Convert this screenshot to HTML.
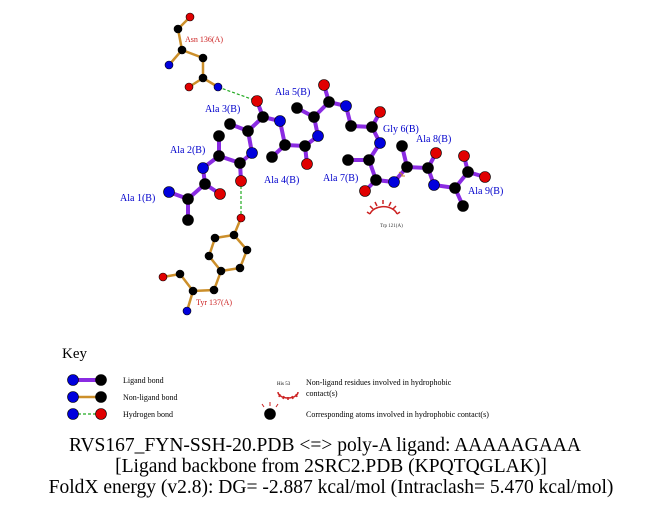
<!DOCTYPE html>
<html><head><style>body{margin:0;background:#fff}svg{display:block}</style></head><body>
<svg width="651" height="511" xmlns="http://www.w3.org/2000/svg" font-family="Liberation Serif, serif">
<g stroke="#cc8f2a" stroke-width="2.5" fill="none">
<polyline points="190,17 178,29 182,50 169,65"/><polyline points="182,50 203,58 203,78 189,87"/><line x1="203" y1="78" x2="218" y2="87"/>
<polyline points="241,218 234,235 215,238 209,256 221,271 240,268 247,250 234,235"/>
<polyline points="221,271 214,290 193,291 180,274 163,277"/><line x1="193" y1="291" x2="187" y2="311"/>
<line x1="73" y1="397" x2="101" y2="397"/>
</g>
<g stroke="#22aa22" stroke-width="1.2" stroke-dasharray="3,2">
<line x1="218" y1="87" x2="257" y2="101"/><line x1="241" y1="181" x2="241" y2="218"/><line x1="73" y1="414" x2="101" y2="414"/>
</g>
<g stroke="#8a2be2" stroke-width="4" fill="none">
<polyline points="169,192 188,199 205,184 203,168 219,156 240,163 252,153 248,131 263,117 280,121 285,145 305,146 318,136 314,117 329,102 346,106 351,126 372,127 380,143 369,160 376,180 394,182 407,167 428,168 434,185 455,188 468,172 485,177"/>
<line x1="188" y1="199" x2="188" y2="220"/><line x1="205" y1="184" x2="220" y2="194"/><line x1="219" y1="156" x2="219" y2="136"/>
<line x1="240" y1="163" x2="241" y2="181"/><line x1="248" y1="131" x2="230" y2="124"/><line x1="263" y1="117" x2="257" y2="101"/>
<line x1="285" y1="145" x2="272" y2="157"/><line x1="305" y1="146" x2="307" y2="164"/><line x1="314" y1="117" x2="297" y2="108"/>
<line x1="329" y1="102" x2="324" y2="85"/><line x1="372" y1="127" x2="380" y2="112"/><line x1="369" y1="160" x2="348" y2="160"/>
<line x1="376" y1="180" x2="365" y2="191"/><line x1="407" y1="167" x2="402" y2="146"/><line x1="428" y1="168" x2="436" y2="153"/>
<line x1="455" y1="188" x2="463" y2="206"/><line x1="468" y1="172" x2="464" y2="156"/>
<line x1="73" y1="380" x2="101" y2="380"/>
</g>
<g stroke="#000" stroke-width="0.6">
<g fill="#000"><circle cx="178" cy="29" r="4"/><circle cx="182" cy="50" r="4"/><circle cx="203" cy="58" r="4"/><circle cx="203" cy="78" r="4"/>
<circle cx="234" cy="235" r="4"/><circle cx="215" cy="238" r="4"/><circle cx="209" cy="256" r="4"/><circle cx="221" cy="271" r="4"/><circle cx="240" cy="268" r="4"/><circle cx="247" cy="250" r="4"/><circle cx="214" cy="290" r="4"/><circle cx="193" cy="291" r="4"/><circle cx="180" cy="274" r="4"/>
<circle cx="188" cy="199" r="5.5"/><circle cx="188" cy="220" r="5.5"/><circle cx="205" cy="184" r="5.5"/><circle cx="219" cy="156" r="5.5"/><circle cx="219" cy="136" r="5.5"/><circle cx="240" cy="163" r="5.5"/><circle cx="248" cy="131" r="5.5"/><circle cx="230" cy="124" r="5.5"/><circle cx="263" cy="117" r="5.5"/><circle cx="285" cy="145" r="5.5"/><circle cx="272" cy="157" r="5.5"/><circle cx="305" cy="146" r="5.5"/><circle cx="314" cy="117" r="5.5"/><circle cx="297" cy="108" r="5.5"/><circle cx="329" cy="102" r="5.5"/><circle cx="351" cy="126" r="5.5"/><circle cx="372" cy="127" r="5.5"/><circle cx="369" cy="160" r="5.5"/><circle cx="348" cy="160" r="5.5"/><circle cx="376" cy="180" r="5.5"/><circle cx="407" cy="167" r="5.5"/><circle cx="402" cy="146" r="5.5"/><circle cx="428" cy="168" r="5.5"/><circle cx="455" cy="188" r="5.5"/><circle cx="463" cy="206" r="5.5"/><circle cx="468" cy="172" r="5.5"/>
<circle cx="101" cy="380" r="5.5"/><circle cx="101" cy="397" r="5.5"/><circle cx="270" cy="414" r="5.5"/></g>
<g fill="#e00000"><circle cx="190" cy="17" r="4"/><circle cx="189" cy="87" r="4"/><circle cx="241" cy="218" r="4"/><circle cx="163" cy="277" r="4"/>
<circle cx="220" cy="194" r="5.5"/><circle cx="241" cy="181" r="5.5"/><circle cx="257" cy="101" r="5.5"/><circle cx="307" cy="164" r="5.5"/><circle cx="324" cy="85" r="5.5"/><circle cx="380" cy="112" r="5.5"/><circle cx="365" cy="191" r="5.5"/><circle cx="436" cy="153" r="5.5"/><circle cx="464" cy="156" r="5.5"/><circle cx="485" cy="177" r="5.5"/><circle cx="101" cy="414" r="5.5"/></g>
<g fill="#0000dd"><circle cx="169" cy="65" r="4"/><circle cx="218" cy="87" r="4"/><circle cx="187" cy="311" r="4"/>
<circle cx="169" cy="192" r="5.5"/><circle cx="203" cy="168" r="5.5"/><circle cx="252" cy="153" r="5.5"/><circle cx="280" cy="121" r="5.5"/><circle cx="318" cy="136" r="5.5"/><circle cx="346" cy="106" r="5.5"/><circle cx="380" cy="143" r="5.5"/><circle cx="394" cy="182" r="5.5"/><circle cx="434" cy="185" r="5.5"/><circle cx="73" cy="380" r="5.5"/><circle cx="73" cy="397" r="5.5"/><circle cx="73" cy="414" r="5.5"/></g>
</g>
<g stroke="#cc2222" stroke-width="1.5" fill="none">
<path d="M370,214 A14,10 0 0 1 397,214"/>
<path d="M370,214 l-3,-2 M373,209 l-3,-3 M377,206 l-2,-4 M383,204 l0,-4 M389,206 l2,-4 M393,209 l3,-3 M397,214 l3,-2"/>
<path d="M278,392 A10,6 0 0 0 298,392" /><path d="M280,394 l-1,3 M284,396 l-1,3 M288,397 l0,3 M292,396 l1,3 M296,394 l1,3"/>
<path d="M264,407 l-2,-3 M270,406 l0,-4 M276,407 l2,-3" stroke-width="1"/>
<path d="M399,172 l4,3 M401,176 l4,0" stroke="#cc8822" stroke-width="1"/>
</g>
<g fill="#0000cc" font-size="10">
<text x="205" y="112">Ala 3(B)</text><text x="275" y="95">Ala 5(B)</text><text x="170" y="153">Ala 2(B)</text><text x="264" y="183">Ala 4(B)</text><text x="120" y="201">Ala 1(B)</text><text x="323" y="181">Ala 7(B)</text><text x="383" y="132">Gly 6(B)</text><text x="416" y="142">Ala 8(B)</text><text x="468" y="194">Ala 9(B)</text>
</g>
<g fill="#cc2222" font-size="8"><text x="185" y="42">Asn 136(A)</text><text x="196" y="305">Tyr 137(A)</text></g>
<text x="380" y="227" font-size="5" fill="#333">Trp 121(A)</text>
<text x="62" y="358" font-size="15">Key</text>
<g font-size="8" fill="#000"><text x="123" y="383">Ligand bond</text><text x="123" y="400">Non-ligand bond</text><text x="123" y="417">Hydrogen bond</text>
<text x="306" y="385">Non-ligand residues involved in hydrophobic</text><text x="306" y="396">contact(s)</text><text x="306" y="417">Corresponding atoms involved in hydrophobic contact(s)</text>
<text x="277" y="385" font-size="5">His 53</text></g>
<g font-size="19.5" text-anchor="middle" fill="#000"><text x="325" y="451">RVS167_FYN-SSH-20.PDB &lt;=&gt; poly-A ligand: AAAAAGAAA</text><text x="331" y="472">[Ligand backbone from 2SRC2.PDB (KPQTQGLAK)]</text><text x="331" y="493">FoldX energy (v2.8): DG= -2.887 kcal/mol (Intraclash= 5.470 kcal/mol)</text></g>
</svg>
</body></html>
